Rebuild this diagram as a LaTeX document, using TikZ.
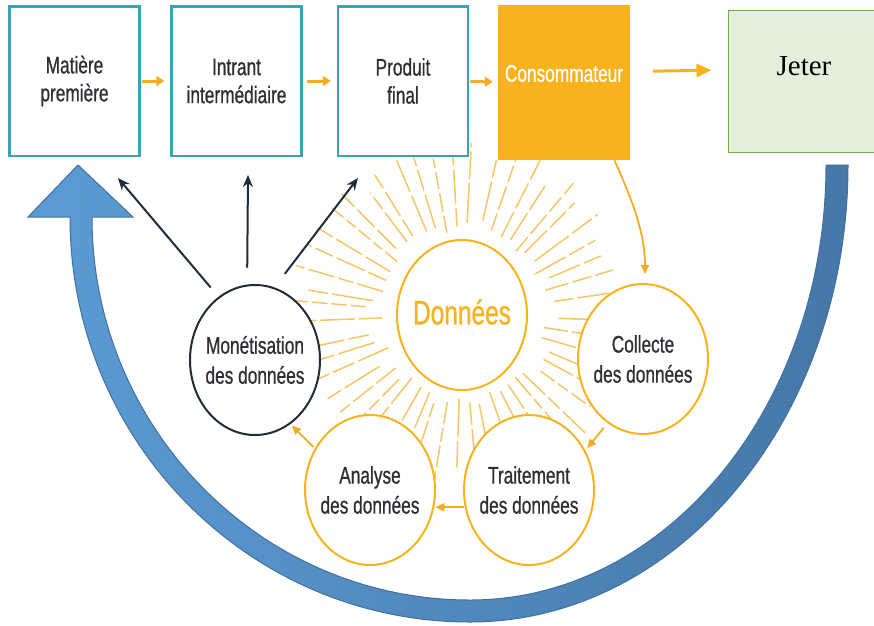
\documentclass[tikz,border=0pt]{standalone}
\usepackage{fontspec}
\setmainfont{Liberation Serif}
\newfontfamily\condsans[FakeStretch=0.72,FakeBold=0.7]{Liberation Sans}
\usetikzlibrary{arrows.meta,shapes.geometric,calc,backgrounds}

\definecolor{tealbox}{HTML}{3BA3B5}
\definecolor{orangeD}{HTML}{F7B21E}
\definecolor{orangeA}{HTML}{F5AC22}
\definecolor{orangeL}{HTML}{F7C466}
\definecolor{navy}{HTML}{1F2D3B}
\definecolor{textgrey}{HTML}{2E2E33}
\definecolor{jetfill}{HTML}{E2EFDA}
\definecolor{jetline}{HTML}{70AD47}
\definecolor{blueL}{HTML}{5B9BD5}
\definecolor{blueD}{HTML}{4677A8}
\definecolor{blueE}{HTML}{41719C}

\tikzset{
  stagebox/.style={draw=tealbox, line width=2.5pt, fill=white, minimum width=130pt,
    minimum height=149.5pt, inner sep=0pt, align=center, text=textgrey,
    font=\condsans\fontsize{24}{28}\selectfont},
  cyclecircle/.style={ellipse, draw=orangeD, line width=2pt, fill=white,
    minimum width=130pt, minimum height=150pt, inner sep=0pt},
  circletext/.style={align=center, text=textgrey, font=\condsans\fontsize{24}{30}\selectfont},
  orangearrow/.style={draw=orangeA, line width=1.8pt, -{Triangle[length=9pt,width=8pt]}},
  boxarrow/.style={draw=orangeA, line width=3pt, -{Triangle[length=8pt,width=10pt]}},
  darkarrow/.style={draw=navy, line width=2pt, -{Stealth[length=12pt,width=10pt]}},
  ray/.style={draw=orangeL, line width=1.5pt, line cap=round},
  bluearrow/.style={draw=blueE, line width=1pt, left color=blueL, right color=blueD}
}

\begin{document}
\begin{tikzpicture}[x=1pt,y=-1pt]
  \useasboundingbox (0,0) rectangle (874,625);

  % chaine de valeur
  \node[stagebox] (mat) at (74.5,81) {Matière\\première};
  \node[stagebox] (int) at (236.5,81) {Intrant\\intermédiaire};
  \node[stagebox] (pro) at (403,81) {Produit\\final};
  \node[fill=orangeD, minimum width=132pt, minimum height=155pt, inner sep=0pt,
    label={[yshift=9pt, text=white, font=\condsans\fontsize{24}{28}\selectfont]center:Consommateur}]
    (con) at (564,82.5) {};
  \node[draw=jetline, line width=1pt, fill=jetfill, minimum width=152pt, minimum height=142pt,
    inner sep=0pt, label={[yshift=15pt, font=\fontsize{29}{32}\selectfont]center:Jeter}]
    (jet) at (804,81) {};

  % cycle des donnees
  \node[cyclecircle, label={[text=orangeD, font=\condsans\fontsize{34}{36}\selectfont, yshift=3pt]center:Données}]
    (don) at (462,315) {};
  \node[cyclecircle, draw=navy, label={[circletext]center:Monétisation\\des données}] (mon) at (255,360) {};
  \node[cyclecircle, label={[circletext]center:Collecte\\des données}] (col) at (643,359) {};
  \node[cyclecircle, label={[circletext]center:Analyse\\des données}] (ana) at (370,490) {};
  \node[cyclecircle, label={[circletext]center:Traitement\\des données}] (tra) at (529,490) {};

  % rayons
  \begin{scope}[on background layer]
    \pgfmathsetseed{11}
    \foreach \a in {0,7,...,356} {
      \pgfmathsetmacro\ang{\a+3*rnd}
      \pgfmathsetmacro\rs{80+18*rnd}
      \pgfmathsetmacro\re{150+28*rnd}
      \pgfmathsetmacro\da{14+30*rnd}
      \pgfmathsetmacro\db{10+24*rnd}
      \draw[ray, dash pattern=on \da pt off 5pt on \db pt off 5pt]
        ($(don.center)+(\ang:\rs)$) -- ($(don.center)+(\ang:\re)$);
    }
  \end{scope}

  % fleches
  \draw[boxarrow, shorten <=1pt, shorten >=6pt] (mat) -- (int);
  \draw[boxarrow, shorten <=4pt, shorten >=6pt] (int) -- (pro);
  \draw[boxarrow, shorten <=1pt, shorten >=5pt] (pro) -- (con);
  \draw[draw=orangeD, line width=3pt, -{Triangle[length=15pt,width=13pt]},
    shorten <=23pt, shorten >=16pt] ($(con.east)+(0,-11)$) -- ($(jet.west)+(0,-11)$);

  \draw[orangearrow] (con.-57) .. controls +(14,32) and +(0,-45) .. ($(col.north)+(2,-9)$);
  \draw[orangearrow, shorten <=6pt, shorten >=3pt] (col.241) -- (tra.35);
  \draw[orangearrow, shorten <=1pt, shorten >=1pt] (tra.195) -- (ana.-15);
  \draw[orangearrow, shorten <=2pt, shorten >=2pt] (ana.143) -- (mon.-61);

  \coordinate (tipmat) at (118,178);
  \coordinate (tipint) at (248,175);
  \coordinate (tippro) at (358,178);
  \draw[darkarrow, shorten <=12pt] (mon.120) -- (tipmat);
  \draw[darkarrow, shorten <=17pt] (mon.96) -- (tipint);
  \draw[darkarrow, shorten <=17pt] (mon.75) -- (tippro);

  % retour : grande fleche bleue
  \draw[bluearrow] (848,165) .. controls (848,417) and (679,622) .. (470,622)
    .. controls (249,622) and (70,441) .. (70,217)
    -- (28,217) -- (78,165) -- (133,217) -- (92,217)
    .. controls (92,428) and (261,600) .. (470,600)
    .. controls (667,600) and (826,405) .. (826,165) -- cycle;
\end{tikzpicture}
\end{document}
